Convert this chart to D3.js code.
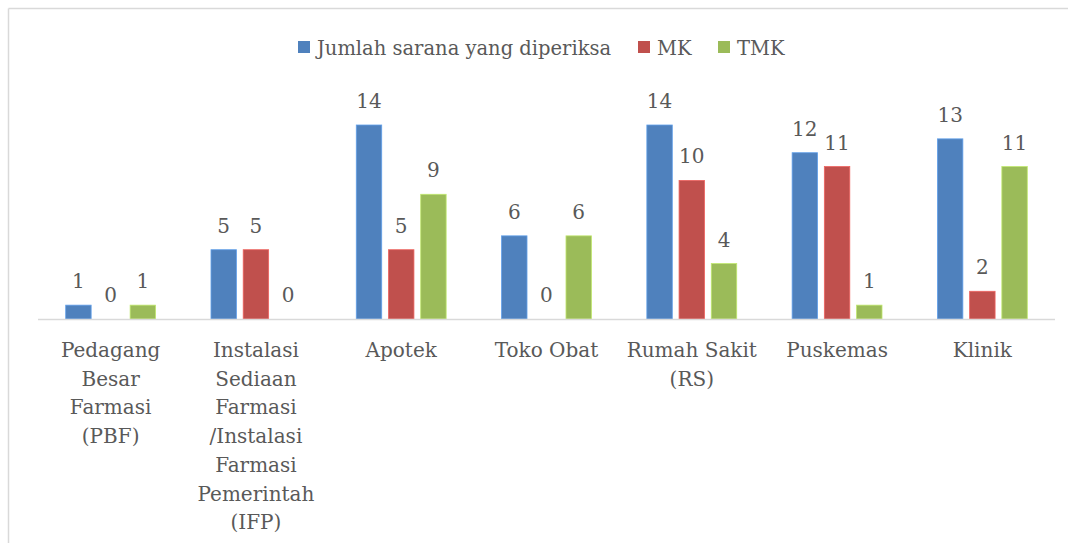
<!DOCTYPE html>
<html>
<head>
<meta charset="utf-8">
<script src="https://cdn.jsdelivr.net/npm/d3@7"></script>
<style>
  body { margin: 0; background: #fff; }
  text { font-family: "DejaVu Serif", serif; fill: #595959; }
</style>
</head>
<body>
<div id="my_dataviz"></div>
<script>
// categories and their wrapped tick labels
var categories = ["PBF", "IFP", "Apotek", "Toko Obat", "RS", "Puskemas", "Klinik"];
var tickLabels = [
  ["Pedagang", "Besar", "Farmasi", "(PBF)"],
  ["Instalasi", "Sediaan", "Farmasi", "/Instalasi", "Farmasi", "Pemerintah", "(IFP)"],
  ["Apotek"],
  ["Toko Obat"],
  ["Rumah Sakit", "(RS)"],
  ["Puskemas"],
  ["Klinik"]
];

// series
var seriesNames = ["Jumlah sarana yang diperiksa", "MK", "TMK"];
var jumlah = [1, 5, 14, 6, 14, 12, 13];
var mk     = [0, 5, 5, 0, 10, 11, 2];
var tmk    = [1, 0, 9, 6, 4, 1, 11];
var colors = ["#4F81BD", "#C0504D", "#9BBB59"];

var series = [jumlah, mk, tmk];

var width = 1068, height = 543;
var plot = {left: 38, right: 1055, top: 125, bottom: 319};

var svg = d3.select("#my_dataviz")
  .append("svg")
    .attr("width", width)
    .attr("height", height);

// chart frame (only top and left edges are visible)
svg.append("line")
  .attr("x1", 8.5).attr("x2", width).attr("y1", 8.5).attr("y2", 8.5)
  .attr("stroke", "#d9d9d9").attr("stroke-width", 1.5);
svg.append("line")
  .attr("x1", 8.5).attr("x2", 8.5).attr("y1", 8.5).attr("y2", height)
  .attr("stroke", "#d9d9d9").attr("stroke-width", 1.5);

// scales
var x0 = d3.scaleBand()
  .domain(categories)
  .range([plot.left, plot.right]);

var x1 = d3.scaleBand()
  .domain(seriesNames)
  .range([0, x0.bandwidth()])
  .paddingInner(0.21)
  .paddingOuter(0.86);

var y = d3.scaleLinear()
  .domain([0, 14])
  .range([plot.bottom, plot.top]);

// bars
var groups = svg.selectAll("g.cat")
  .data(categories)
  .enter()
  .append("g")
    .attr("class", "cat")
    .attr("transform", function(d) { return "translate(" + x0(d) + ",0)"; });

groups.selectAll("rect")
  .data(function(d, i) { return series.map(function(s, j) { return {name: seriesNames[j], value: s[i], color: colors[j]}; }); })
  .enter()
  .append("rect")
    .attr("x", function(d) { return x1(d.name); })
    .attr("y", function(d) { return y(d.value); })
    .attr("width", x1.bandwidth())
    .attr("height", function(d) { return y(0) - y(d.value); })
    .attr("fill", function(d) { return d.color; })
    .attr("stroke", function(d) { return d3.color(d.color).brighter(0.6); })
    .attr("stroke-width", 0.8);

// value labels
groups.selectAll("text.val")
  .data(function(d, i) { return series.map(function(s, j) { return {name: seriesNames[j], value: s[i]}; }); })
  .enter()
  .append("text")
    .attr("class", "val")
    .attr("x", function(d) { return x1(d.name) + x1.bandwidth() / 2; })
    .attr("y", function(d) { return y(d.value) - 17; })
    .attr("text-anchor", "middle")
    .style("font-size", "20px")
    .text(function(d) { return d.value; });

// x axis line
svg.append("line")
  .attr("x1", plot.left).attr("x2", plot.right)
  .attr("y1", plot.bottom + 0.5).attr("y2", plot.bottom + 0.5)
  .attr("stroke", "#d9d9d9").attr("stroke-width", 1.5);

// category labels
var ticks = svg.selectAll("text.tick")
  .data(categories)
  .enter()
  .append("text")
    .attr("class", "tick")
    .attr("text-anchor", "middle")
    .style("font-size", "20px");

ticks.selectAll("tspan")
  .data(function(d, i) { return tickLabels[i]; })
  .enter()
  .append("tspan")
    .attr("x", function() { var c = d3.select(this.parentNode).datum(); return x0(c) + x0.bandwidth() / 2; })
    .attr("y", function(d, k) { return 357 + k * 28.7; })
    .text(function(d) { return d; });

// legend
var legendX = [298, 638, 718];
var legend = svg.selectAll("g.legend")
  .data(seriesNames)
  .enter()
  .append("g")
    .attr("class", "legend")
    .attr("transform", function(d, i) { return "translate(" + legendX[i] + ",0)"; });

legend.append("rect")
  .attr("x", 0).attr("y", 41)
  .attr("width", 12).attr("height", 12)
  .attr("fill", function(d, i) { return colors[i]; });

legend.append("text")
  .attr("x", 19).attr("y", 55)
  .style("font-size", "19.5px")
  .text(function(d) { return d; });
</script>
</body>
</html>
